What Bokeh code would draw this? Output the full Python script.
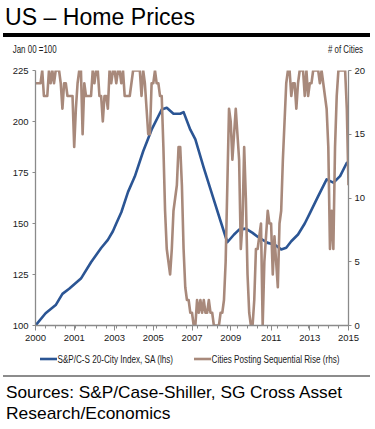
import html
from bokeh.plotting import figure
from bokeh.layouts import column
from bokeh.models import Range1d, LinearAxis, FixedTicker, Div
from bokeh.embed import file_html
from bokeh.resources import INLINE

# ---------------- data ----------------
# S&P/Case-Shiller 20-City index, SA (lhs); month index 0 = Jan 2000
HPI_MONTH = [0, 6, 12, 16, 20, 27, 33, 39, 43, 46, 48, 51, 55, 59, 64, 69, 75, 78,
             82, 86, 88, 92, 95, 100, 105, 110, 114, 118, 121, 125, 129, 132, 138,
             142, 146, 149, 152, 156, 160, 163, 168, 173, 177, 181, 185, 186]
HPI_VALUE = [100, 106, 110, 115.5, 118, 123, 131, 138, 142, 146.2, 150, 155.5, 165.5,
             173, 185.4, 196, 205.9, 206.7, 203.8, 203.8, 204.6, 196, 191.2, 177.3,
             164.2, 151.1, 140.8, 144.6, 147, 147.5, 145.4, 143.5, 140.5, 139.7, 137.3,
             138.1, 141.3, 144.6, 150, 155, 163.4, 171.6, 170, 173.2, 179.8, 179.5]

# Cities posting sequential rise (rhs), monthly from Jan 2000
CITIES = [19, 19, 19, 19, 20, 18, 18, 18, 20, 19, 20, 19,
          20, 20, 20, 19, 17, 19, 19, 18, 18, 18, 18, 14,
          17, 19, 20, 20, 15, 19, 18, 18, 18, 18, 20, 19,
          20, 20, 18, 18, 16, 18, 18, 17, 20, 19, 20, 20,
          19, 20, 20, 19, 20, 18, 18, 18, 18, 19, 20, 20,
          20, 20, 20, 18, 20, 19, 17, 15, 15, 19, 19, 20,
          19, 19, 18, 18, 14, 9, 6, 5, 4, 6, 9, 10,
          11, 14, 14, 11, 6, 3, 2, 2, 1, 1, 0, 0,
          2, 1, 2, 1, 2, 1, 1, 2, 1, 1, 0, 0,
          0, 0, 1, 1, 2, 5, 11, 17, 16, 13, 15, 17,
          15, 13, 6, 8, 14, 10, 4, 1, 0, 0, 2, 6,
          6, 7, 8, 0, 5, 7, 9, 8, 8, 4, 7, 5,
          3, 8, 9, 13, 16, 19, 20, 20, 18, 19, 19, 17,
          19, 20, 20, 20, 18, 20, 18, 19, 19, 20, 20, 20,
          20, 19, 20, 19, 18, 17, 14, 6, 9, 6, 14, 18,
          20, 20, 20, 20, 20, 17, 11]
CITY_MONTH = list(range(len(CITIES)))

XTICK_POS = [0, 23, 47, 70, 93, 116, 140, 163, 186]
XTICK_LABELS = ["2000", "2001", "2003", "2005", "2007", "2009", "2011", "2013", "2015"]
XMINOR_POS = list(range(0, 187, 6))
LEFT_TICKS = [100, 125, 150, 175, 200, 225]
RIGHT_TICKS = [0, 5, 10, 15, 20]

TITLE = "US \u2013 Home Prices"
LEFT_UNIT = "Jan 00 =100"
RIGHT_UNIT = "# of Cities"
SERIES_NAMES = ["S&P/C-S 20-City Index, SA (lhs)", "Cities Posting Sequential Rise (rhs)"]
SOURCE_LINES = ["Sources: S&P/Case-Shiller, SG Cross Asset", "Research/Economics"]

# ---------------- style ----------------
BLUE = "#2B5594"
BROWN = "#A8897B"
AXIS_GREY = "#8A8A8A"
TICK_FONT = "Liberation Sans"
SANS = "Liberation Sans"
W = 375

p = figure(frame_width=313, frame_height=255,
           min_border_left=35, min_border_right=27,
           min_border_top=8, min_border_bottom=25,
           x_range=Range1d(0, 186), y_range=Range1d(100, 225),
           x_axis_location=None, y_axis_location=None,
           output_backend="svg", toolbar_location=None)
p.extra_y_ranges = {"cities": Range1d(0, 20)}
p.xgrid.visible = False
p.ygrid.visible = False
p.outline_line_color = None
p.background_fill_color = "white"
p.border_fill_color = "white"


def style_axis(ax):
    ax.axis_line_color = AXIS_GREY
    ax.axis_line_width = 1.3
    ax.major_tick_line_color = AXIS_GREY
    ax.minor_tick_line_color = AXIS_GREY
    ax.major_tick_in = 0
    ax.minor_tick_in = 0
    ax.major_tick_out = 3
    ax.minor_tick_out = 0
    ax.major_label_text_font = TICK_FONT
    ax.major_label_text_font_size = "9.5px"
    ax.major_label_text_color = "#1a1a1a"
    ax.major_label_standoff = 3


left = LinearAxis(ticker=FixedTicker(ticks=LEFT_TICKS))
style_axis(left)
left.major_label_standoff = 4
p.add_layout(left, "left")

right = LinearAxis(y_range_name="cities", ticker=FixedTicker(ticks=RIGHT_TICKS))
style_axis(right)
p.add_layout(right, "right")

bottom = LinearAxis(ticker=FixedTicker(ticks=XTICK_POS, minor_ticks=XMINOR_POS),
                    major_label_overrides={t: s for t, s in zip(XTICK_POS, XTICK_LABELS)})
style_axis(bottom)
bottom.major_tick_out = 5
bottom.minor_tick_out = 3
bottom.major_label_standoff = 4
p.add_layout(bottom, "below")

p.line(HPI_MONTH, HPI_VALUE, line_color=BLUE, line_width=2.6, line_join="round")
p.line(CITY_MONTH, CITIES, line_color=BROWN, line_width=2.6, line_join="round",
       y_range_name="cities")

e = html.escape


def svg_text(x, y, s, size, length, anchor="start", color="#000"):
    return (f'<text x="{x}" y="{y}" text-anchor="{anchor}" font-family="{SANS}" '
            f'font-size="{size}px" fill="{color}" textLength="{length}" '
            f'lengthAdjust="spacingAndGlyphs">{e(s)}</text>')


header_svg = (
    f'<svg xmlns="http://www.w3.org/2000/svg" width="{W}" height="62" style="display:block">'
    + svg_text(5, 24.5, TITLE, 23, 190)
    + '<rect x="3" y="33" width="367" height="4" fill="#000"/>'
    + svg_text(12.7, 52.5, LEFT_UNIT, 10.5, 44, color="#1a1a1a")
    + svg_text(363, 52.5, RIGHT_UNIT, 10.5, 35, anchor="end", color="#1a1a1a")
    + '</svg>')
footer_svg = (
    f'<svg xmlns="http://www.w3.org/2000/svg" width="{W}" height="79" style="display:block">'
    f'<line x1="40" y1="9" x2="57" y2="9" stroke="{BLUE}" stroke-width="2.6"/>'
    + svg_text(57.5, 12.5, SERIES_NAMES[0], 10, 115.5, color="#1a1a1a")
    + f'<line x1="194" y1="9" x2="211" y2="9" stroke="{BROWN}" stroke-width="2.6"/>'
    + svg_text(211.5, 12.5, SERIES_NAMES[1], 10, 128, color="#1a1a1a")
    + '<rect x="3" y="25" width="367" height="2" fill="#8C8C8C"/>'
    + svg_text(6, 48, SOURCE_LINES[0], 17, 336)
    + svg_text(6, 69, SOURCE_LINES[1], 17, 164.5)
    + '</svg>')

header = Div(text=header_svg, width=W, height=62, margin=0)
footer = Div(text=footer_svg, width=W, height=79, margin=0)

layout = column(header, p, footer, spacing=0, margin=0)
open("out.html", "w").write(file_html(layout, INLINE))
